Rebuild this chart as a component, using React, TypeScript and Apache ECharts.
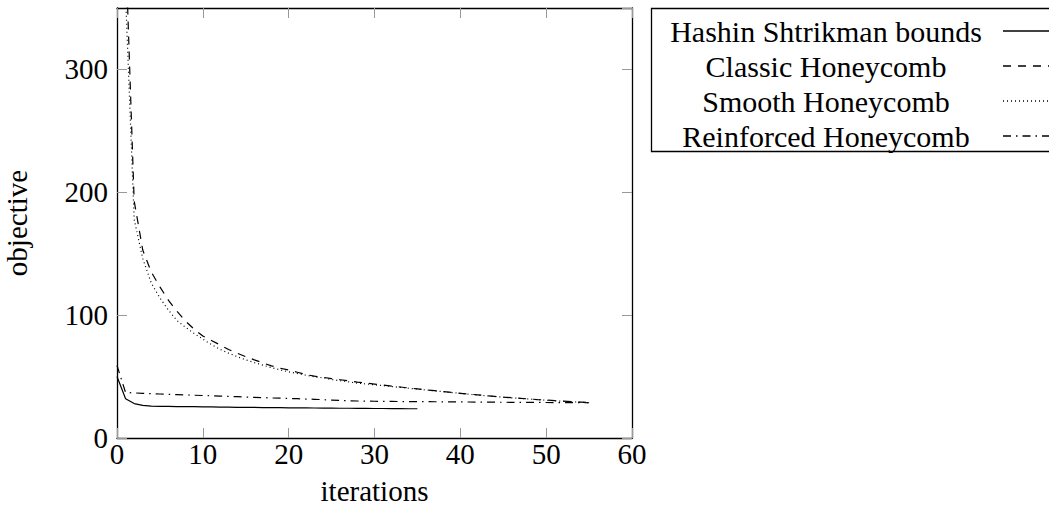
import React, { useEffect, useRef } from "react";
import * as echarts from "echarts";

const FONT = "'Liberation Serif', 'Times New Roman', serif";

const xTicks = [0, 10, 20, 30, 40, 50, 60];
const yTicks = [0, 100, 200, 300];

const seriesNames = [
  "Hashin Shtrikman bounds",
  "Classic Honeycomb",
  "Smooth Honeycomb",
  "Reinforced Honeycomb",
];

// iterations 0..35
const hashinValues = [
  50, 32, 28, 26.5, 26, 25.8, 25.7, 25.6, 25.5, 25.5, 25.4, 25.3, 25.2, 25.1,
  25, 25, 24.9, 24.8, 24.7, 24.7, 24.6, 24.5, 24.5, 24.4, 24.3, 24.3, 24.2,
  24.2, 24.1, 24.1, 24, 24, 23.9, 23.9, 23.8, 23.8,
];

// iterations 1..55
const classicValues = [
  400, 193, 153, 135, 123, 112, 103, 95, 88.5, 83, 79.4, 75.8, 72, 69, 66.2,
  63.6, 61.1, 58.7, 56.8, 55.3, 53.5, 51.7, 50.3, 49.4, 48.3, 47.4, 46.5, 45.5,
  44.7, 43.9, 43.1, 42.3, 41.5, 40.7, 40, 39.2, 38.5, 37.8, 37.1, 36.4, 35.7,
  35.1, 34.5, 33.9, 33.3, 32.8, 32.3, 31.8, 31.3, 30.9, 30.4, 30, 29.6, 29.2,
  28.8,
];

// iterations 1..55
const smoothValues = [
  360, 178, 146, 126, 114, 104, 95.5, 90, 85, 80.5, 76, 72.2, 69.1, 66.2, 63.6,
  61.4, 59.3, 57.3, 55.5, 53.9, 52.5, 51.1, 49.8, 49, 47.6, 46.6, 45.7, 44.7,
  44, 43.3, 42.6, 41.9, 41.2, 40.5, 39.8, 39.1, 38.4, 37.7, 37, 36.3, 35.6, 35,
  34.4, 33.8, 33.2, 32.7, 32.2, 31.7, 31.2, 30.8, 30.3, 29.9, 29.5, 29.1, 28.7,
];

// iterations 0..55
const reinforcedValues = [
  59, 37, 36.7, 36.4, 36.1, 35.8, 35.5, 35.3, 35.1, 34.8, 34.6, 34.3, 34.1,
  33.8, 33.6, 33.3, 33.1, 32.9, 32.6, 32.4, 32.2, 32, 31.7, 31.5, 31.2, 30.9,
  30.6, 30.3, 30.1, 30, 29.9, 29.8, 29.75, 29.7, 29.65, 29.6, 29.55, 29.5,
  29.45, 29.4, 29.35, 29.3, 29.25, 29.2, 29.15, 29.1, 29.06, 29.02, 28.98,
  28.94, 28.9, 28.86, 28.82, 28.78, 28.74, 28.7,
];

const lineDashes: (number[] | null)[] = [null, [8, 7], [1, 3], [8, 5, 1.5, 5]];

function pairs(values: number[], start: number) {
  return values.map((v, i) => [i + start, v]);
}

export default function App() {
  const ref = useRef<HTMLDivElement>(null);
  useEffect(() => {
    if (!ref.current) return;
    const chart = echarts.init(ref.current, null, { renderer: "svg" });
    const axisLineStyle = { color: "#000", width: 1.3 };
    const tickStyle = { color: "#999", width: 1 };
    const labelStyle = { fontFamily: FONT, fontSize: 29, color: "#000" };
    const datasets = [
      pairs(hashinValues, 0),
      pairs(classicValues, 1),
      pairs(smoothValues, 1),
      pairs(reinforcedValues, 0),
    ];
    const legendRows = [31, 66, 101, 136];
    const graphics: any[] = [
      {
        type: "rect",
        shape: { x: 651.5, y: 8.5, width: 420, height: 143 },
        style: { fill: "#fff", stroke: "#000", lineWidth: 1.3 },
        z: 10,
      },
    ];
    seriesNames.forEach((name, i) => {
      graphics.push({
        type: "text",
        x: 826,
        y: legendRows[i],
        z: 11,
        style: {
          text: name,
          fontFamily: FONT,
          fontSize: 30,
          fill: "#000",
          align: "center",
          verticalAlign: "middle",
        },
      });
      graphics.push({
        type: "line",
        z: 11,
        shape: { x1: 1003, y1: legendRows[i], x2: 1049, y2: legendRows[i] },
        style: {
          stroke: "#000",
          lineWidth: 1.3,
          lineDash: lineDashes[i] || undefined,
        },
      });
    });

    const common = (extra: any) => ({
      type: "value",
      axisLine: { show: true, onZero: false, lineStyle: axisLineStyle },
      axisTick: { show: true, inside: true, length: 10, lineStyle: tickStyle },
      splitLine: { show: false },
      ...extra,
    });

    chart.setOption({
      animation: false,
      backgroundColor: "#fff",
      grid: {
        left: 117,
        top: 8,
        right: 417,
        bottom: 78,
        containLabel: false,
        outerBoundsMode: "none",
      },
      xAxis: [
        common({
          min: xTicks[0],
          max: xTicks[xTicks.length - 1],
          interval: 10,
          name: "iterations",
          nameLocation: "middle",
          nameGap: 38,
          nameTextStyle: { fontFamily: FONT, fontSize: 29, color: "#000" },
          axisLabel: { ...labelStyle, margin: 1 },
        }),
        common({
          position: "top",
          min: xTicks[0],
          max: xTicks[xTicks.length - 1],
          interval: 10,
          axisLabel: { show: false },
        }),
      ],
      yAxis: [
        common({
          min: yTicks[0],
          max: 350,
          interval: 100,
          name: "objective",
          nameLocation: "middle",
          nameGap: 86,
          nameRotate: 90,
          nameTextStyle: { fontFamily: FONT, fontSize: 29, color: "#000" },
          axisLabel: { ...labelStyle, margin: 9, showMaxLabel: false },
        }),
        common({
          position: "right",
          min: yTicks[0],
          max: 350,
          interval: 100,
          axisLabel: { show: false },
        }),
      ],
      series: seriesNames.map((name, i) => ({
        name,
        type: "line",
        data: datasets[i],
        xAxisIndex: 0,
        yAxisIndex: 0,
        showSymbol: false,
        symbol: "none",
        clip: true,
        lineStyle: {
          color: "#000",
          width: 1.2,
          type: lineDashes[i] ? lineDashes[i] : "solid",
        },
      })),
      graphic: graphics,
    });
    return () => chart.dispose();
  }, []);
  return (
    <div
      ref={ref}
      style={{ position: "absolute", left: 0, top: 0, width: 1049, height: 516 }}
    />
  );
}
